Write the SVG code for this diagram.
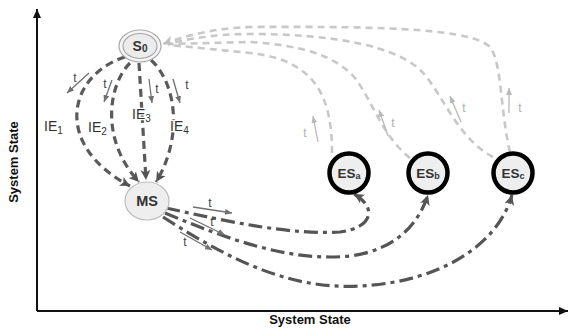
<svg xmlns="http://www.w3.org/2000/svg" width="570" height="329" viewBox="0 0 570 329">
<style>
.ax{fill:none;stroke:#111;stroke-width:2}
.ie{fill:none;stroke:#5a5a5a;stroke-width:3.2;stroke-dasharray:8 5}
.ms{fill:none;stroke:#555;stroke-width:3.2;stroke-dasharray:14 5 4 5}
.rt{fill:none;stroke:#c8c8c8;stroke-width:2.6;stroke-dasharray:7 5}
.td{fill:none;stroke:#707070;stroke-width:1.3}
.tl{fill:none;stroke:#b8b8b8;stroke-width:1.3}
.lbl{font-family:"Liberation Sans",Arial,sans-serif;font-size:14px;fill:#333}
.tt{font-family:"Liberation Sans",Arial,sans-serif;font-size:12px;fill:#444;text-anchor:middle}
.ttl{font-family:"Liberation Sans",Arial,sans-serif;font-size:12px;fill:#b0b0b0;text-anchor:middle}
.nd{font-family:"Liberation Sans",Arial,sans-serif;font-weight:bold;fill:#333;text-anchor:middle}
.axl{font-family:"Liberation Sans",Arial,sans-serif;font-weight:bold;font-size:13px;fill:#111;text-anchor:middle}
.es{fill:#eeeeee;stroke:#000;stroke-width:4.5}
.halo{stroke:#fff;stroke-width:2.5;paint-order:stroke;stroke-linejoin:round}
</style>
<defs>
<marker id="ad" markerUnits="userSpaceOnUse" markerWidth="12" markerHeight="10" refX="10" refY="5" orient="auto"><path d="M0,0 L10,5 L0,10 L2.5,5 Z" fill="#555"/></marker>
<marker id="al" markerUnits="userSpaceOnUse" markerWidth="12" markerHeight="10" refX="10" refY="5" orient="auto"><path d="M0,0 L10,5 L0,10 L2.5,5 Z" fill="#c0c0c0"/></marker>
<marker id="at" markerUnits="userSpaceOnUse" markerWidth="8" markerHeight="6" refX="7" refY="3" orient="auto"><path d="M0,0 L7,3 L0,6 Z" fill="#707070"/></marker>
<marker id="atl" markerUnits="userSpaceOnUse" markerWidth="8" markerHeight="6" refX="7" refY="3" orient="auto"><path d="M0,0 L7,3 L0,6 Z" fill="#b8b8b8"/></marker>
<marker id="ax" markerUnits="userSpaceOnUse" markerWidth="10" markerHeight="8" refX="9" refY="4" orient="auto"><path d="M0,0 L9,4 L0,8 Z" fill="#111"/></marker>
</defs>
<g id="axes">
<path class="ax" d="M37,311 L37,9" marker-end="url(#ax)"/>
<path class="ax" d="M37,311 L568,311" marker-end="url(#ax)"/>
<text class="axl" x="310" y="324">System State</text>
<text class="axl" transform="translate(18,162) rotate(-90)">System State</text>
</g>
<g id="connectors">
<path class="rt" d="M332,153 C332,100 318,60 250,53 C210,49 182,46 168,45"/>
<path class="rt" d="M410,158 C382,136 372,100 355,78 C335,55 300,45 250,42 L168,44"/>
<path class="rt" d="M493,157 C460,140 445,100 425,75 C400,45 330,34 250,34 C210,34 185,40 168,44"/>
<path class="rt" d="M510,152 C500,110 502,62 490,47 C472,30 400,26 250,27 C210,28 180,38 163,44" marker-end="url(#al)"/>
<path class="ie" d="M125,57 C68,75 52,145 130,186" marker-end="url(#ad)"/>
<path class="ie" d="M130,63 C108,85 100,140 139,182" marker-end="url(#ad)"/>
<path class="ie" d="M139,63 L146,180" marker-end="url(#ad)"/>
<path class="ie" d="M151,60 C178,85 182,140 156,182" marker-end="url(#ad)"/>
<path class="ms" d="M166,208 C230,222 290,235 340,232 C372,228 378,208 354,194" marker-end="url(#ad)"/>
<path class="ms" d="M165,213 C230,240 290,262 350,256 C395,250 418,225 428,195" marker-end="url(#ad)"/>
<path class="ms" d="M163,217 C230,260 290,290 360,286 C440,282 498,245 512,195" marker-end="url(#ad)"/>
<path class="td" d="M89,73 L67,93" marker-end="url(#at)"/>
<path class="td" d="M112,80 L104,102" marker-end="url(#at)"/>
<path class="td" d="M149,79 L152,103" marker-end="url(#at)"/>
<path class="td" d="M173,79 L180,103" marker-end="url(#at)"/>
<path class="td" d="M193,207 L232,213" marker-end="url(#at)"/>
<path class="td" d="M190,218 L225,235" marker-end="url(#at)"/>
<path class="td" d="M180,232 L212,250" marker-end="url(#at)"/>
<path class="tl" d="M318,142 L313,116" marker-end="url(#atl)"/>
<path class="tl" d="M388,136 L379,110" marker-end="url(#atl)"/>
<path class="tl" d="M461,122 L450,96" marker-end="url(#atl)"/>
<path class="tl" d="M509,113 L509,88" marker-end="url(#atl)"/>
<text class="tt" x="75" y="82">t</text>
<text class="tt" x="105" y="88">t</text>
<text class="tt" x="157" y="93">t</text>
<text class="tt" x="187" y="89">t</text>
<text class="tt" x="210" y="207">t</text>
<text class="tt" x="212" y="226">t</text>
<text class="tt" x="185" y="246">t</text>
<text class="ttl" x="305" y="137">t</text>
<text class="ttl" x="393" y="127">t</text>
<text class="ttl" x="464" y="112">t</text>
<text class="ttl" x="520" y="112">t</text>
<text class="lbl halo" x="44" y="131">IE<tspan font-size="10" dy="3">1</tspan></text>
<text class="lbl halo" x="88" y="132">IE<tspan font-size="10" dy="3">2</tspan></text>
<text class="lbl halo" x="132" y="119">IE<tspan font-size="10" dy="3">3</tspan></text>
<text class="lbl halo" x="170" y="131">IE<tspan font-size="10" dy="3">4</tspan></text>
</g>
<g id="S0">
<ellipse cx="140" cy="46" rx="21" ry="16" fill="#f6f6f6" stroke="#a8a8a8" stroke-width="1.2"/>
<ellipse cx="140" cy="46" rx="17" ry="12.5" fill="#ececec" stroke="#a8a8a8" stroke-width="1.2"/>
<text class="nd" x="140" y="51" font-size="14">S<tspan font-size="10" dy="1">0</tspan></text>
</g>
<g id="MS">
<ellipse cx="147" cy="201" rx="22" ry="19" fill="#eeeeee" stroke="#bdbdbd" stroke-width="1.2"/>
<text class="nd" x="147" y="206" font-size="14.5">MS</text>
</g>
<g id="ESa">
<circle class="es" cx="349" cy="173" r="19.5"/>
<text class="nd" x="349" y="178" font-size="13.5">ES<tspan font-size="9" dy="1">a</tspan></text>
</g>
<g id="ESb">
<circle class="es" cx="428" cy="173" r="19.5"/>
<text class="nd" x="428" y="178" font-size="13.5">ES<tspan font-size="9" dy="1">b</tspan></text>
</g>
<g id="ESc">
<circle class="es" cx="513" cy="173" r="19.5"/>
<text class="nd" x="513" y="178" font-size="13.5">ES<tspan font-size="9" dy="1">c</tspan></text>
</g>
</svg>
